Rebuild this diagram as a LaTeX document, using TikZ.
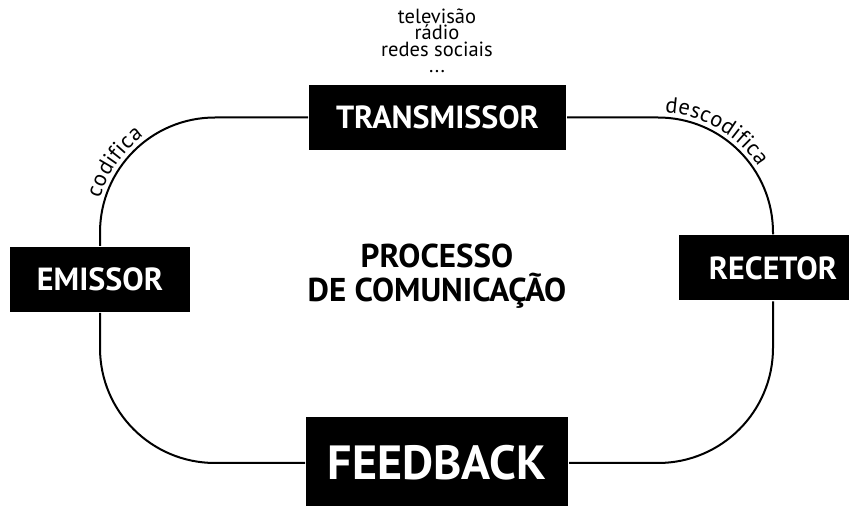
\documentclass[tikz,border=0pt]{standalone}
\usepackage{fontspec}
\setmainfont{PT Sans}
\usetikzlibrary{decorations.text}

\newcommand\curvefont{\fontsize{22.5}{22.5}\selectfont}

\begin{document}
\begin{tikzpicture}[x=1pt,y=1pt,line width=2pt,
  box node/.style={fill=black,text=white,inner sep=0pt,minimum height=65pt,font=\fontsize{32}{32}\selectfont\bfseries},
  note node/.style={align=center,inner sep=0pt,font=\fontsize{20.5}{16.5}\selectfont},
  curve label/.style={decorate,decoration={text along path,text align=center,raise=5pt,text={|\curvefont|#1}}}]
  \clip (0,0) rectangle (849,506);

  \node[box node,minimum width=257pt] (transmissor) at (437.5,388.5) {TRANSMISSOR};
  \node[box node,minimum width=180pt] (emissor) at (100,226.5) {EMISSOR};
  \node[box node,minimum width=188pt] (recetor) at (773,238) {RECETOR};
  \node[box node,minimum width=262pt,minimum height=92pt,font=\fontsize{48}{48}\selectfont\bfseries] (feedback) at (437,43) {FEEDBACK};

  \node[align=center,font=\fontsize{33}{34}\selectfont\bfseries] (processo) at (437,230) {PROCESSO\\DE COMUNICAÇÃO};
  \node[note node,anchor=south] (meios) at (437,432) {televisão\\rádio\\redes sociais\\...};

  % the loop
  \draw[rounded corners=115pt] (emissor.north) |- (transmissor.west);
  \draw[rounded corners=115pt] (transmissor.east) -| (recetor.north);
  \draw[rounded corners=115pt] (recetor.south) |- (feedback.east);
  \draw[rounded corners=115pt] (feedback.west) -| (emissor.south);

  \path[curve label=codifica] (100,273.5) arc[start angle=180,end angle=110,radius=115];
  \path[curve label=descodifica] ([shift={(100:115)}]658,273.5) arc[start angle=100,end angle=20,radius=115];
\end{tikzpicture}
\end{document}
